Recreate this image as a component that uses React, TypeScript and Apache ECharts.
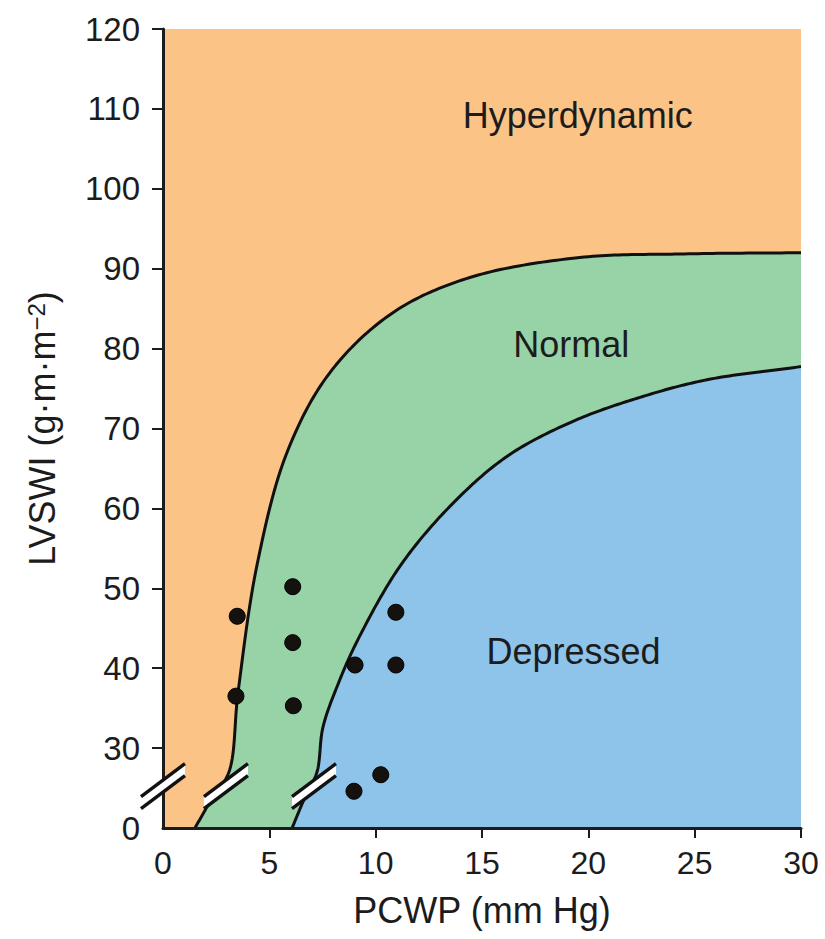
import React, { useEffect, useRef } from "react";
import * as echarts from "echarts";

// ---- data (PCWP in mm Hg, LVSWI in g·m·m^-2) ----
const xTickValues = [0, 5, 10, 15, 20, 25, 30];
const yTickValues = [30, 40, 50, 60, 70, 80, 90, 100, 110, 120];

// boundary between Hyperdynamic and Normal
const upperCurve: number[][] = [
  [1.5, 0], [2.3, 11], [3.1, 21], [3.53, 37], [4.42, 52.9], [5.83, 67],
  [7.85, 77], [10.81, 84.5], [14.43, 88.9], [19.6, 91.4], [24.5, 91.85], [30, 92],
];
// boundary between Normal and Depressed
const lowerCurve: number[][] = [
  [6.07, 0], [6.7, 12], [7.24, 21], [7.52, 32.6], [8.23, 38.0], [9.17, 43.6],
  [11.14, 52.75], [13.49, 60.25], [16.17, 66.5], [19.28, 70.9], [22.43, 73.9],
  [25.58, 76.1], [30, 77.75],
];
// patient points
const patientX = [3.49, 3.43, 6.1, 6.1, 6.13, 9.03, 10.95, 10.95, 8.98, 10.24];
const patientY = [46.5, 36.5, 50.2, 43.2, 35.3, 40.4, 47.0, 40.4, 13.8, 20];
// region labels
const regionNames = ["Hyperdynamic", "Normal", "Depressed"];
const regionX = [19.5, 19.2, 19.3];
const regionY = [109.2, 80.5, 42.1];
// axis-break markers (real values)
const breakX = [0, 2.96, 7.1];
const breakY = [15.75, 15.75, 15.75];

// broken axis: 0..30 compressed into one 10-unit step
const AXIS_MIN = 20;
const toAxis = (v: number) => (v >= 30 ? v : AXIS_MIN + v / 3);

const FONT = '"Liberation Sans", Arial, Helvetica, sans-serif';
const ORANGE = "#FCC386";
const GREEN = "#98D3A8";
const BLUE = "#8EC3EA";
const INK = "#1c1c1c";

// centripetal Catmull-Rom through pixel points (rendering only)
function spline(pts: number[][], steps = 24): number[][] {
  const out: number[][] = [];
  const n = pts.length;
  const get = (i: number) => {
    if (i < 0) return [2 * pts[0][0] - pts[1][0], 2 * pts[0][1] - pts[1][1]];
    if (i >= n) return [2 * pts[n - 1][0] - pts[n - 2][0], 2 * pts[n - 1][1] - pts[n - 2][1]];
    return pts[i];
  };
  const dist = (a: number[], b: number[]) =>
    Math.max(1e-6, Math.pow(Math.hypot(b[0] - a[0], b[1] - a[1]), 0.5));
  for (let i = 0; i < n - 1; i++) {
    const p0 = get(i - 1), p1 = get(i), p2 = get(i + 1), p3 = get(i + 2);
    const t0 = 0;
    const t1 = t0 + dist(p0, p1);
    const t2 = t1 + dist(p1, p2);
    const t3 = t2 + dist(p2, p3);
    for (let s = 0; s < steps; s++) {
      const t = t1 + ((t2 - t1) * s) / steps;
      const lerp = (a: number[], b: number[], ta: number, tb: number) => [
        ((tb - t) / (tb - ta)) * a[0] + ((t - ta) / (tb - ta)) * b[0],
        ((tb - t) / (tb - ta)) * a[1] + ((t - ta) / (tb - ta)) * b[1],
      ];
      const A1 = lerp(p0, p1, t0, t1);
      const A2 = lerp(p1, p2, t1, t2);
      const A3 = lerp(p2, p3, t2, t3);
      const B1 = lerp(A1, A2, t0, t2);
      const B2 = lerp(A2, A3, t1, t3);
      out.push(lerp(B1, B2, t1, t2));
    }
  }
  out.push(pts[n - 1]);
  return out;
}

const curveRenderer = (curve: number[][], fill: string) => (params: any, api: any) => {
  if (params.dataIndex !== 0) return null;
  const px = curve.map(([x, y]) => api.coord([x, toAxis(y)]));
  const dense = spline(px);
  const b1 = api.coord([curve[curve.length - 1][0], AXIS_MIN]);
  const b0 = api.coord([curve[0][0], AXIS_MIN]);
  return {
    type: "group",
    children: [
      { type: "polygon", shape: { points: [...dense, b1, b0] }, style: { fill } },
      {
        type: "polyline",
        shape: { points: dense },
        style: { stroke: "#111", lineWidth: 3, fill: "none", lineJoin: "round" },
      },
    ],
  };
};

export default function App() {
  const ref = useRef<HTMLDivElement>(null);
  useEffect(() => {
    if (!ref.current) return;
    const chart = echarts.init(ref.current, null, { renderer: "svg" });
    chart.setOption({
      animation: false,
      backgroundColor: "#ffffff",
      grid: {
        left: 163,
        top: 29,
        right: 24,
        bottom: 111,
        show: true,
        backgroundColor: ORANGE,
        borderWidth: 0,
      },
      xAxis: {
        type: "value",
        min: 0,
        max: 30,
        interval: 5,
        z: 5,
        splitLine: { show: false },
        axisLine: { show: true, lineStyle: { color: INK, width: 3 } },
        axisTick: {
          show: true,
          length: 10,
          lineStyle: { color: INK, width: 2 },
          customValues: xTickValues.filter((v) => v > 0),
        },
        axisLabel: {
          color: INK,
          fontSize: 32,
          fontFamily: FONT,
          margin: 19,
          customValues: xTickValues,
        },
        name: "PCWP (mm Hg)",
        nameLocation: "middle",
        nameGap: 64,
        nameTextStyle: { color: INK, fontSize: 36, fontFamily: FONT },
      },
      yAxis: {
        type: "value",
        min: AXIS_MIN,
        max: 120,
        interval: 10,
        splitLine: { show: false },
        axisLine: { show: true, lineStyle: { color: INK, width: 3 } },
        axisTick: {
          show: true,
          length: 11,
          lineStyle: { color: INK, width: 2 },
          customValues: yTickValues,
        },
        axisLabel: {
          color: INK,
          fontSize: 33,
          fontFamily: FONT,
          margin: 23,
          customValues: [AXIS_MIN, ...yTickValues],
          formatter: (v: number) => (v === AXIS_MIN ? "0" : String(v)),
        },
        name: "{a|LVSWI (g·m·m}{s|−2}{a|)}",
        nameLocation: "middle",
        nameGap: 103,
        nameRotate: 90,
        nameTextStyle: {
          color: INK,
          fontFamily: FONT,
          rich: {
            a: { fontSize: 36, fontFamily: FONT, color: INK },
            s: { fontSize: 24, fontFamily: FONT, color: INK, verticalAlign: "top" },
          },
        },
      },
      series: [
        {
          type: "custom",
          z: 2,
          silent: true,
          data: upperCurve.map(([x, y]) => [x, toAxis(y)]),
          renderItem: curveRenderer(upperCurve, GREEN),
        },
        {
          type: "custom",
          z: 3,
          silent: true,
          data: lowerCurve.map(([x, y]) => [x, toAxis(y)]),
          renderItem: curveRenderer(lowerCurve, BLUE),
        },
        {
          type: "custom",
          clip: false,
          z: 6,
          silent: true,
          data: breakX.map((x, i) => [x, toAxis(breakY[i])]),
          renderItem: (params: any, api: any) => {
            const p = api.coord([api.value(0), api.value(1)]);
            const cx = p[0];
            const cy = p[1];
            const dx = 22;
            const dy = -16.5;
            const off = 6;
            const a1 = [cx - dx, cy - off - dy];
            const b1 = [cx + dx, cy - off + dy];
            const a2 = [cx - dx, cy + off - dy];
            const b2 = [cx + dx, cy + off + dy];
            return {
              type: "group",
              children: [
                { type: "polygon", shape: { points: [a1, b1, b2, a2] }, style: { fill: "#ffffff" } },
                { type: "line", shape: { x1: a1[0], y1: a1[1], x2: b1[0], y2: b1[1] }, style: { stroke: "#111", lineWidth: 3.4 } },
                { type: "line", shape: { x1: a2[0], y1: a2[1], x2: b2[0], y2: b2[1] }, style: { stroke: "#111", lineWidth: 3.4 } },
              ],
            };
          },
        },
        {
          type: "scatter",
          data: patientX.map((x, i) => [x, toAxis(patientY[i])]),
          symbol: "circle",
          symbolSize: 16,
          itemStyle: { color: "#15110f", borderColor: "#000", borderWidth: 1, opacity: 1 },
          z: 7,
          silent: true,
        },
        {
          type: "scatter",
          data: regionNames.map((n, i) => ({ name: n, value: [regionX[i], regionY[i]] })),
          symbolSize: 0,
          itemStyle: { color: "transparent", opacity: 0 },
          z: 8,
          silent: true,
          label: {
            show: true,
            position: "inside",
            formatter: (p: any) => p.name,
            color: INK,
            fontSize: 36,
            fontFamily: FONT,
            textBorderWidth: 0,
            opacity: 1,
          },
        },
      ],
    });
    return () => chart.dispose();
  }, []);
  return (
    <div
      ref={ref}
      style={{ position: "fixed", left: 0, top: 0, width: 825, height: 939, background: "#fff" }}
    />
  );
}
